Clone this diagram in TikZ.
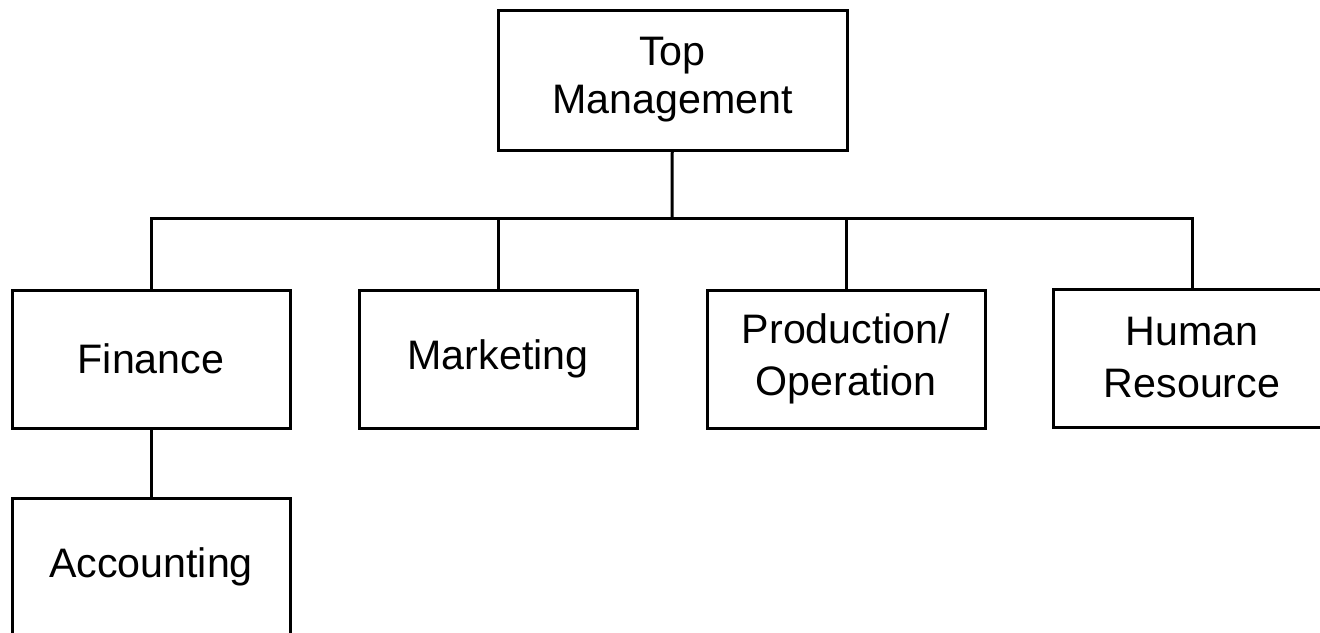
\documentclass[tikz,border=0pt]{standalone}
\usepackage{fontspec}
\setmainfont{Liberation Sans}
\usepackage{tikz}
\usetikzlibrary{positioning}

\begin{document}
\begin{tikzpicture}[x=0.5pt,y=-0.5pt,
  unit/.style={draw,line width=1.5pt,minimum width=139pt,minimum height=69pt,
    align=center,inner sep=0pt,font=\fontsize{20.6}{26}\selectfont},
  link/.style={line width=1.5pt}]
  \useasboundingbox (0,0) rectangle (1320,632);
  \node[unit,minimum width=174.5pt,minimum height=70pt,font=\fontsize{20.6}{24}\selectfont] (top) at (672.5,80) {Top\\Management};
  \node[unit] (fin) at (151,359) {Finance};
  \node[unit] (mkt) at (498,359) {Marketing};
  \node[unit] (prod) at (846,359) {Production/\\Operation};
  \node[unit] (hr) at (1192,358) {Human\\Resource};
  \node[unit] (acc) at (151,567) {Accounting};
  \coordinate (bus) at (672,218);
  \draw[link] (top) -- (bus);
  \foreach \c in {fin,mkt,prod,hr}
    \draw[link] (bus) -| (\c.north);
  \draw[link] (fin) -- (acc);
\end{tikzpicture}
\end{document}
